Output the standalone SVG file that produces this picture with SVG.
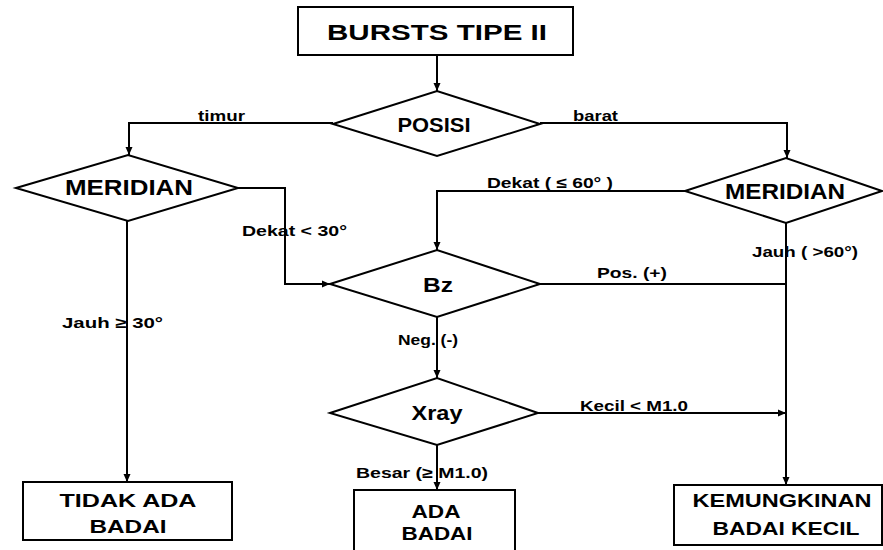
<svg xmlns="http://www.w3.org/2000/svg" width="883" height="550" viewBox="0 0 883 550">
<defs>
<marker id="ah" markerWidth="10" markerHeight="10" refX="9" refY="5" orient="auto" markerUnits="userSpaceOnUse">
<path d="M1,1.5 L9,5 L1,8.5 Z" fill="#000"/>
</marker>
<style>
.shape{fill:#fff;stroke:#000;stroke-width:2}
.line{fill:none;stroke:#000;stroke-width:2}
.arr{marker-end:url(#ah)}
text{font-family:"Liberation Sans",Arial,sans-serif;font-weight:bold;fill:#000}
.node{text-anchor:middle}
.lbl{font-size:15px}
</style>
</defs>
<rect width="883" height="550" fill="#fff"/>
<g id="connectors">
<path class="line arr" d="M437,55 L437,91"/>
<path class="line arr" d="M333,123 L129,123 L129,155"/>
<path class="line arr" d="M540,123 L787,123 L787,158"/>
<path class="line arr" d="M238,188 L285,188 L285,284 L330,284"/>
<path class="line arr" d="M127,221 L127,482"/>
<path class="line arr" d="M685,191 L437,191 L437,250"/>
<path class="line" d="M540,284 L786,284"/>
<path class="line arr" d="M786,223 L786,485"/>
<path class="line arr" d="M437,317 L437,378"/>
<path class="line arr" d="M538,413 L786,413"/>
<path class="line arr" d="M437,445 L437,490"/>
<text class="lbl" x="198" y="121" font-size="12" textLength="47" lengthAdjust="spacingAndGlyphs">timur</text>
<text class="lbl" x="573" y="121" font-size="12" textLength="45" lengthAdjust="spacingAndGlyphs">barat</text>
<text class="lbl" x="242" y="236" textLength="105" lengthAdjust="spacingAndGlyphs">Dekat &lt; 30°</text>
<text class="lbl" x="62" y="328" textLength="101" lengthAdjust="spacingAndGlyphs">Jauh ≥ 30°</text>
<text class="lbl" x="487" y="188" textLength="126" lengthAdjust="spacingAndGlyphs">Dekat ( ≤ 60° )</text>
<text class="lbl" x="752" y="257" textLength="106" lengthAdjust="spacingAndGlyphs">Jauh ( &gt;60°)</text>
<text class="lbl" x="597" y="278" textLength="70" lengthAdjust="spacingAndGlyphs">Pos. (+)</text>
<text class="lbl" x="398" y="345" textLength="60" lengthAdjust="spacingAndGlyphs">Neg. (-)</text>
<text class="lbl" x="580" y="411" textLength="108" lengthAdjust="spacingAndGlyphs">Kecil &lt; M1.0</text>
<text class="lbl" x="356" y="478" textLength="132" lengthAdjust="spacingAndGlyphs">Besar (≥ M1.0)</text>
</g>
<g id="n-bursts">
<rect class="shape" x="298" y="7" width="275" height="48"/>
<text class="node" x="437" y="40" font-size="22" textLength="220" lengthAdjust="spacingAndGlyphs">BURSTS TIPE II</text>
</g>
<g id="n-posisi">
<polygon class="shape" points="333,124 437,91 540,124 437,156"/>
<text class="node" x="434" y="132" font-size="20" textLength="73" lengthAdjust="spacingAndGlyphs">POSISI</text>
</g>
<g id="n-meridian-left">
<polygon class="shape" points="16,188 128,155 238,188 128,221"/>
<text class="node" x="129" y="195" font-size="22" textLength="128" lengthAdjust="spacingAndGlyphs">MERIDIAN</text>
</g>
<g id="n-meridian-right">
<polygon class="shape" points="685,191 786,158 882,191 786,223"/>
<text class="node" x="785" y="199" font-size="22" textLength="120" lengthAdjust="spacingAndGlyphs">MERIDIAN</text>
</g>
<g id="n-bz">
<polygon class="shape" points="330,284 437,250 540,284 437,317"/>
<text class="node" x="438" y="292" font-size="20" textLength="30" lengthAdjust="spacingAndGlyphs">Bz</text>
</g>
<g id="n-xray">
<polygon class="shape" points="330,413 437,378 538,413 437,445"/>
<text class="node" x="437" y="420" font-size="20" textLength="51" lengthAdjust="spacingAndGlyphs">Xray</text>
</g>
<g id="n-tidak">
<rect class="shape" x="23" y="482" width="209" height="58"/>
<text class="node" x="128" y="507" font-size="19" textLength="137" lengthAdjust="spacingAndGlyphs">TIDAK ADA</text>
<text class="node" x="128" y="533" font-size="19" textLength="77" lengthAdjust="spacingAndGlyphs">BADAI</text>
</g>
<g id="n-ada">
<rect class="shape" x="354" y="490" width="161" height="70"/>
<text class="node" x="436" y="518" font-size="19" textLength="49" lengthAdjust="spacingAndGlyphs">ADA</text>
<text class="node" x="437" y="540" font-size="19" textLength="71" lengthAdjust="spacingAndGlyphs">BADAI</text>
</g>
<g id="n-kemungkinan">
<rect class="shape" x="674" y="485" width="208" height="60"/>
<text class="node" x="782" y="507" font-size="19" textLength="179" lengthAdjust="spacingAndGlyphs">KEMUNGKINAN</text>
<text class="node" x="786" y="535" font-size="19" textLength="147" lengthAdjust="spacingAndGlyphs">BADAI KECIL</text>
</g>
</svg>
